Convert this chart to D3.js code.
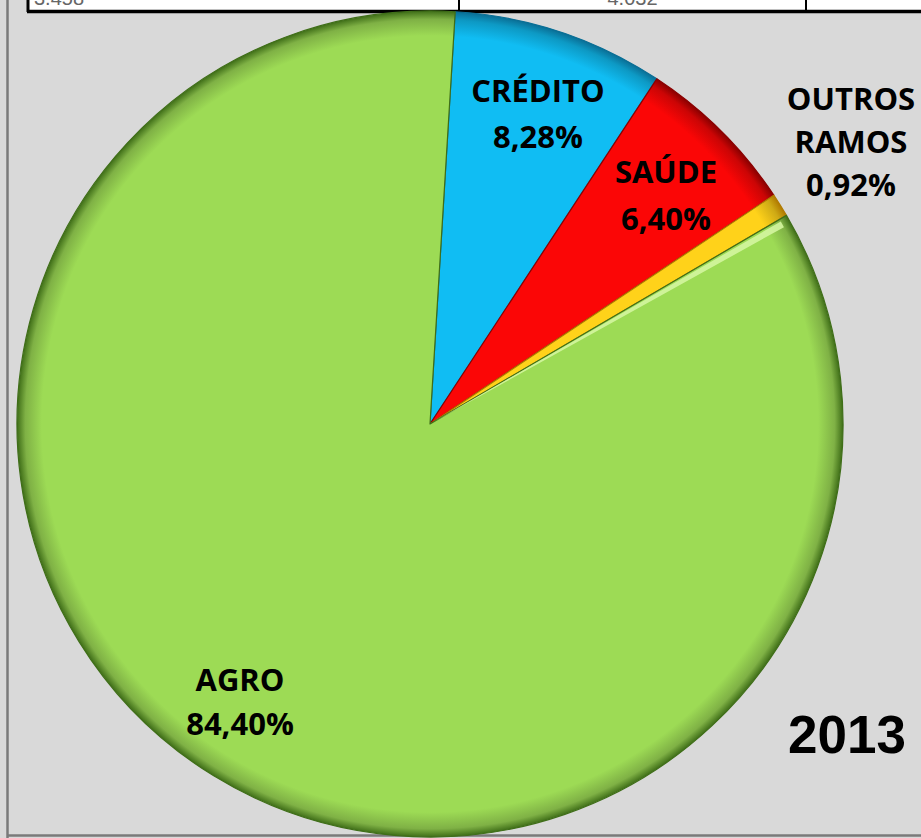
<!DOCTYPE html>
<html>
<head>
<meta charset="utf-8">
<script src="https://cdn.jsdelivr.net/npm/d3@7"></script>
<style>
  html, body { margin: 0; padding: 0; background: #d9d9d9; }
  svg { display: block; }
</style>
</head>
<body>
<svg id="chart" width="921" height="838"></svg>
<script>
// ---- data ----
const categories = ["CRÉDITO", "SAÚDE", "OUTROS RAMOS", "AGRO"];
const labelLines = [["CRÉDITO"], ["SAÚDE"], ["OUTROS", "RAMOS"], ["AGRO"]];
const values = [8.28, 6.40, 0.92, 84.40];
const valueLabels = ["8,28%", "6,40%", "0,92%", "84,40%"];
const colors = ["#10bdf3", "#fb0606", "#ffd21a", "#9ddb55"];
const edgeColors = ["#0a6f96", "#8a0000", "#b07a00", "#3f6e18"];
const yearLabel = "2013";
const headerCells = ["3.458", "4.032", ""];

const W = 921, H = 838;
const svg = d3.select("#chart");
svg.append("rect").attr("width", W).attr("height", H).attr("fill", "#d9d9d9");
const defs = svg.append("defs");

// header table remnant
const header = svg.append("g");
const cellEdges = [28, 459, 806, 925];
defs.append("clipPath").attr("id", "hdrclip").append("rect")
  .attr("x", 0).attr("y", 0).attr("width", W).attr("height", 10);
header.append("rect").attr("x", 28).attr("y", -2).attr("width", W).attr("height", 12)
  .attr("fill", "#ffffff");
const hdrText = header.append("g").attr("clip-path", "url(#hdrclip)");
hdrText.selectAll("text").data(headerCells).join("text")
  .attr("x", (d, i) => i === 0 ? 34 : (cellEdges[i] + cellEdges[i + 1]) / 2)
  .attr("y", 5)
  .attr("text-anchor", (d, i) => i === 0 ? "start" : "middle")
  .attr("font-family", "Liberation Sans, Arial, sans-serif")
  .attr("font-size", 20)
  .attr("fill", "#666")
  .text(d => d);
header.append("line").attr("x1", 27).attr("x2", W).attr("y1", 11.5).attr("y2", 11.5)
  .attr("stroke", "#000").attr("stroke-width", 3.5);
header.selectAll("line.v").data(cellEdges.slice(0, 3)).join("line").attr("class", "v")
  .attr("x1", d => d).attr("x2", d => d).attr("y1", 0).attr("y2", 12)
  .attr("stroke", "#000").attr("stroke-width", (d, i) => i === 0 ? 3 : 2);

// frame
svg.append("line").attr("x1", 7.5).attr("x2", 7.5).attr("y1", 0).attr("y2", H)
  .attr("stroke", "#7a7a7a").attr("stroke-width", 2.5);
svg.append("line").attr("x1", 7).attr("x2", W).attr("y1", 835.5).attr("y2", 835.5)
  .attr("stroke", "#7a7a7a").attr("stroke-width", 2.5);

// pie
const cx = 430, cy = 424, R = 413;
const startOffset = 3.5 * Math.PI / 180;
const pie = d3.pie().sort(null).value(d => d)
  .startAngle(startOffset).endAngle(2 * Math.PI + startOffset);
const arcs = pie(values);
const arc = d3.arc().innerRadius(0).outerRadius(R);

colors.forEach((c, i) => {
  const g = defs.append("radialGradient").attr("id", "grad" + i)
    .attr("cx", 0).attr("cy", 0).attr("r", R).attr("gradientUnits", "userSpaceOnUse");
  g.append("stop").attr("offset", "0%").attr("stop-color", c);
  g.append("stop").attr("offset", "94%").attr("stop-color", c);
  g.append("stop").attr("offset", "98%").attr("stop-color", d3.color(c).darker(0.6));
  g.append("stop").attr("offset", "100%").attr("stop-color", edgeColors[i]);
});

const pg = svg.append("g").attr("transform", `translate(${cx},${cy})`);
pg.selectAll("path.slice").data(arcs).join("path").attr("class", "slice")
  .attr("d", arc)
  .attr("fill", (d, i) => `url(#grad${i})`)
  .attr("stroke", (d, i) => edgeColors[i])
  .attr("stroke-width", 1.2)
  .attr("stroke-linejoin", "round");

// highlight along the AGRO upper edge
const agro = arcs[3];
const hl = d3.arc().innerRadius(4).outerRadius(R - 8)
  .startAngle(agro.startAngle + 0.006).endAngle(agro.startAngle + 0.022);
pg.append("path").attr("d", hl()).attr("fill", "#d4f5a0").attr("opacity", 0.9);

// labels
const font = "'Open Sans', 'Noto Sans', sans-serif";
const labelPos = [
  { x: 538, y: [102], vy: 148 },
  { x: 666, y: [183], vy: 230 },
  { x: 851, y: [110, 153], vy: 196 },
  { x: 240, y: [691], vy: 735 }
];
const lg = svg.append("g").attr("font-family", font).attr("font-weight", 700)
  .attr("font-size", 31).attr("fill", "#000").attr("text-anchor", "middle");
labelLines.forEach((lines, i) => {
  lines.forEach((t, j) => {
    lg.append("text").attr("x", labelPos[i].x).attr("y", labelPos[i].y[j]).text(t);
  });
  lg.append("text").attr("x", labelPos[i].x).attr("y", labelPos[i].vy).text(valueLabels[i]);
});

svg.append("text").attr("x", 847).attr("y", 753).attr("text-anchor", "middle")
  .attr("font-family", "'Liberation Sans', Arial, sans-serif").attr("font-weight", 700)
  .attr("font-size", 53).attr("fill", "#000").text(yearLabel);
</script>
</body>
</html>
